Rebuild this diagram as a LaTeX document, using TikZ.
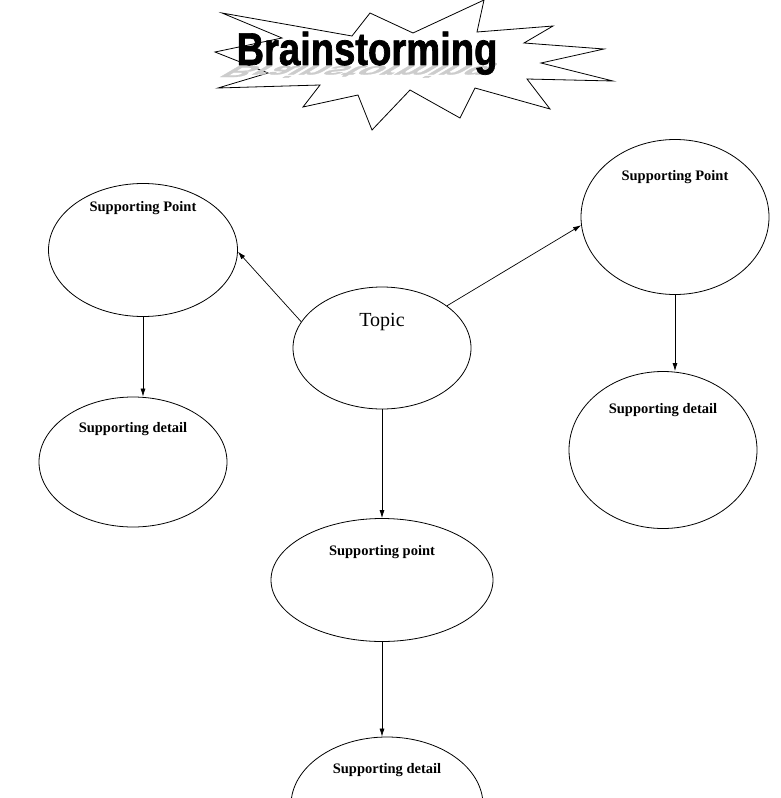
\documentclass[tikz,border=0pt]{standalone}
\usepackage{fontspec}
\setmainfont{Liberation Serif}
\newfontfamily\titlefont{Liberation Sans}[FakeStretch=0.83,FakeBold=1.5]
\usetikzlibrary{shapes.geometric,arrows.meta,positioning}

\tikzset{
  bubble/.style={draw, ellipse, line width=0.8pt, inner sep=0pt},
  lbl/.style={font=\bfseries\fontsize{14.5}{16}\selectfont, inner sep=0pt},
  link/.style={-{Latex[length=8pt,width=5pt]}, line width=0.7pt},
}

\begin{document}
\begin{tikzpicture}[x=1pt,y=-1pt]
    \useasboundingbox (0,0) rectangle (781,798);

    % title burst
    \draw [line width=0.8pt, fill=white] (222,13) -- (352,36) -- (370,13) -- (413,33) -- (484,0)
        -- (477,32) -- (553,26) -- (524,43) -- (604,49) -- (541,63) -- (613,81) -- (527,79)
        -- (550,109) -- (475,88) -- (460,118) -- (410,90) -- (372,130) -- (358,95) -- (303,107)
        -- (320,85) -- (218,88) -- (268,73) -- (215,52) -- (282,38) -- cycle;
    \node [anchor=base, text=gray!40, font=\titlefont\bfseries\fontsize{46}{50}\selectfont,
        xslant=1.7, yscale=-0.35, transform shape] (shadow) at (367,66) {Brainstorming};
    \node [anchor=base, font=\titlefont\bfseries\fontsize{46}{50}\selectfont] (title) at (367,65) {Brainstorming};

    % bubbles
    \node [bubble, minimum width=178pt, minimum height=122pt] (topic) at (382,348) {};
    \node [bubble, minimum width=189pt, minimum height=133pt] (tlpoint) at (143,250) {};
    \node [bubble, minimum width=188pt, minimum height=155pt] (trpoint) at (675,217) {};
    \node [bubble, minimum width=188pt, minimum height=130pt] (ldetail) at (133,462) {};
    \node [bubble, minimum width=188pt, minimum height=157pt] (rdetail) at (663,450) {};
    \node [bubble, minimum width=222pt, minimum height=123pt] (cpoint) at (382,580) {};
    \node [bubble, minimum width=192pt, minimum height=136pt] (bdetail) at (387,805) {};

    % texts
    \node [inner sep=0pt, font=\fontsize{20}{22}\selectfont, below=26pt of topic.north] (topictxt) {Topic};
    \node [lbl, below=18pt of tlpoint.north] (tlptxt) {Supporting Point};
    \node [lbl, below=31pt of trpoint.north] (trptxt) {Supporting Point};
    \node [lbl, below=26pt of ldetail.north] (ldtxt) {Supporting detail};
    \node [lbl, below=32pt of rdetail.north] (rdtxt) {Supporting detail};
    \node [lbl, below=27pt of cpoint.north] (cptxt) {Supporting point};
    \node [lbl, below=27pt of bdetail.north] (bdtxt) {Supporting detail};

    % arrows
    \draw [link] (topic.162) -- (tlpoint.-1);
    \draw [link] (topic.33) -- (trpoint.185);
    \draw [link] (topic.south) -- (cpoint.north);
    \draw [link] (tlpoint.south) -- (tlpoint.south |- ldetail.north);
    \draw [link] (trpoint.south) -- (trpoint.south |- rdetail.north);
    \draw [link] (cpoint.south) -- (cpoint.south |- bdetail.north);
\end{tikzpicture}
\end{document}
